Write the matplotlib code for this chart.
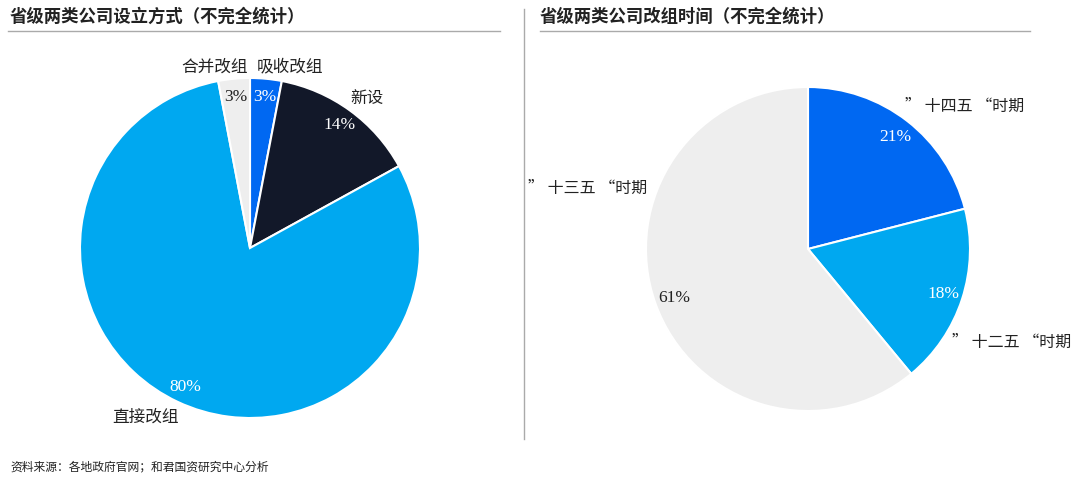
import matplotlib
matplotlib.use('Agg')
import matplotlib.pyplot as plt

plt.rcParams['font.family'] = ['Noto Sans CJK SC', 'DejaVu Sans']

left_title = '省级两类公司设立方式（不完全统计）'
left_labels = ['吸收改组', '新设', '直接改组', '合并改组']
left_values = [3, 14, 80, 3]

right_title = '省级两类公司改组时间（不完全统计）'
right_labels = ['” 十四五 “时期', '” 十二五 “时期', '” 十三五 “时期']
right_values = [21, 18, 61]

source = '资料来源：各地政府官网；和君国资研究中心分析'

blue = '#0068f2'
navy = '#121829'
sky = '#00a8f0'
grey = '#eeeeee'
left_colors = [blue, navy, sky, grey]
right_colors = [blue, sky, grey]

# label positions in pixel coords (x, y from top)
left_label_pos = [(290, 67), (367, 98), (145, 417), (215, 67)]
right_label_pos = [(965, 106), (1012, 342), (588, 188)]

W, H = 1080, 481
fig = plt.figure(figsize=(W / 100, H / 100), dpi=100)
ax = fig.add_axes([0, 0, 1, 1])

pct_font = dict(family='Liberation Serif', size=12.5)

w1, t1, p1 = ax.pie(left_values, colors=left_colors, startangle=90, counterclock=False,
                    radius=170, center=(250, H - 249), autopct='%d%%', pctdistance=0.9,
                    wedgeprops=dict(edgecolor='white', linewidth=1.5), textprops=pct_font)
w2, t2, p2 = ax.pie(right_values, colors=right_colors, startangle=90, counterclock=False,
                    radius=162, center=(808, H - 250), autopct='%d%%', pctdistance=0.88,
                    wedgeprops=dict(edgecolor='white', linewidth=1.5), textprops=pct_font)

for p, c in zip(p1 + p2, left_colors + right_colors):
    p.set_color('#222222' if c == grey else 'white')

for lab, (x, y) in zip(left_labels, left_label_pos):
    ax.text(x, H - y, lab, ha='center', va='center', fontsize=12, color='#222222')
for lab, (x, y) in zip(right_labels, right_label_pos):
    ax.text(x, H - y, lab, ha='center', va='center', fontsize=11.5, color='#222222')

ax.text(10, H - 17, left_title, ha='left', va='center', fontsize=12.5, fontweight='bold', color='#222222')
ax.text(540, H - 17, right_title, ha='left', va='center', fontsize=12.5, fontweight='bold', color='#222222')
ax.plot([8, 500], [H - 32, H - 32], color='#aaaaaa', lw=1)
ax.plot([540, 1030], [H - 32, H - 32], color='#aaaaaa', lw=1)
ax.plot([524, 524], [H - 10, H - 440], color='#aaaaaa', lw=1)
ax.text(10, H - 467, source, ha='left', va='center', fontsize=8.5, color='#222222')

ax.set_xlim(0, W)
ax.set_ylim(0, H)
ax.set_aspect('equal')
ax.axis('off')

fig.savefig('out.png', dpi=100)
